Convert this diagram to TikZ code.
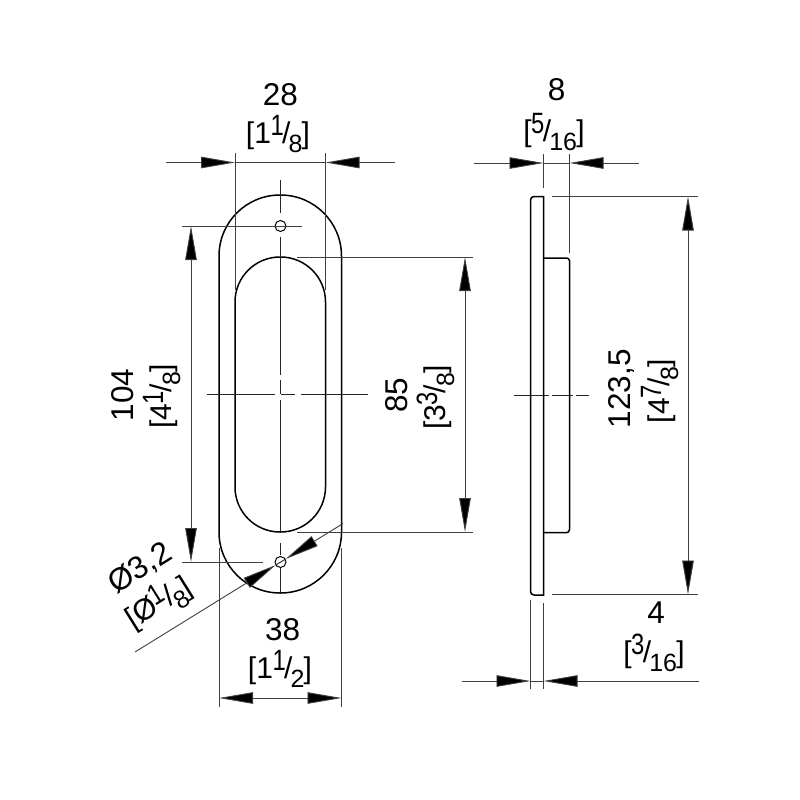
\documentclass[tikz,border=0pt]{standalone}
\usepackage{fontspec}
\setmainfont{Liberation Sans}
\usetikzlibrary{arrows.meta}
\newcommand{\brk}[3]{{\fontsize{30}{31}\selectfont[#1\kern-.5pt\raisebox{8pt}{\scalebox{.85}[1.05]{\fontsize{28}{29}\selectfont #2}}\kern-1.5pt/\kern-2pt\raisebox{-9pt}{\fontsize{25}{26}\selectfont #3}\kern-.8pt]}}
\tikzset{
  outline/.style={line width=1.5pt,black},
  dimline/.style={line width=.9pt,black!75},
  extline/.style={line width=.9pt,black!75},
  centre/.style={line width=.9pt,black!85},
  dimtip/.style={-{Triangle[length=34pt,width=11.5pt,fill=black]}},
  bigtxt/.style={font=\fontsize{31.5}{33}\selectfont,inner sep=0pt,anchor=base},
  fractxt/.style={inner sep=0pt,anchor=base},
}
\begin{document}
\begin{tikzpicture}[x=1pt,y=-1pt]
\useasboundingbox (0,0) rectangle (800,800);
% named points
\coordinate (holeT) at (280.5,226);
\coordinate (holeB) at (280.5,562);
% front view
\draw[outline,rounded corners=61pt] (219,195) rectangle (341.5,593);
\draw[outline,rounded corners=45pt] (235,257) rectangle (325.5,532);
\node[circle,draw,line width=1pt,minimum size=11pt,inner sep=0pt] (hT) at (holeT) {};
\node[circle,draw,line width=1pt,minimum size=11pt,inner sep=0pt] (hB) at (holeB) {};
% centre lines
\draw[centre] (280.5,180) -- (280.5,213);
\draw[centre] (280.5,237) -- (280.5,375);
\draw[centre] (280.5,380) -- (280.5,394);
\draw[centre] (280.5,400) -- (280.5,532);
\draw[centre] (280.5,543) -- (280.5,555);
\draw[centre] (280.5,568) -- (280.5,593);
\draw[centre] (207,394) -- (275,394);
\draw[centre] (280.5,394) -- (295,394);
\draw[centre] (301,394) -- (368,394);
\draw[centre] (514,395) -- (549,395);
\draw[centre] (552,395) -- (573,395);
\draw[centre] (576,395) -- (589,395);
% dim 28
\draw[extline] (235,153) -- (235,290);
\draw[extline] (325.5,153) -- (325.5,290);
\coordinate (a1) at (166,162.5); \coordinate (a2) at (235,162.5);
\coordinate (a3) at (395,162.5); \coordinate (a4) at (325.5,162.5);
\draw[dimline] (a2) -- (a4);
\draw[dimline,dimtip] (a1) -- (a2);
\draw[dimline,dimtip] (a3) -- (a4);
\node[bigtxt] (t28) at (280.5,105) {28};
\node[fractxt] (f28) at (278,143) {\brk{1}{1}{8}};
% dim 104
\draw[extline] (182,226) -- (302,226);
\draw[extline] (182,562) -- (263,562);
\coordinate (b1) at (191,394); \coordinate (b2) at (191,226); \coordinate (b3) at (191,562);
\draw[dimline,dimtip] (b1) -- (b2);
\draw[dimline,dimtip] (b1) -- (b3);
\node[bigtxt,rotate=90] (t104) at (133,395) {104};
\node[fractxt,rotate=90] (f104) at (171,396.5) {\brk{4}{1}{8}};
% dim 85
\draw[extline] (297,257) -- (473,257);
\draw[extline] (297,532) -- (473,532);
\coordinate (c1) at (465,394); \coordinate (c2) at (465,257); \coordinate (c3) at (465,532);
\draw[dimline,dimtip] (c1) -- (c2);
\draw[dimline,dimtip] (c1) -- (c3);
\node[bigtxt,rotate=90] (t85) at (407,395) {85};
\node[fractxt,rotate=90] (f85) at (445,397.5) {\brk{3}{3}{8}};
% dim 38
\draw[extline] (219,548) -- (219,707);
\draw[extline] (341.5,548) -- (341.5,707);
\coordinate (d1) at (280,698); \coordinate (d2) at (219,698); \coordinate (d3) at (341.5,698);
\draw[dimline,dimtip] (d1) -- (d2);
\draw[dimline,dimtip] (d1) -- (d3);
\node[bigtxt] (t38) at (282.7,640) {38};
\node[fractxt] (f38) at (280,678.5) {\brk{1}{1}{2}};
% dia 3.2
\coordinate (e0) at (135,652); \coordinate (e1) at (275.7,565); \coordinate (e2) at (285.7,559); \coordinate (e3) at (343,523.5);
\draw[dimline,dimtip] (e0) -- (e1);
\draw[dimline,dimtip] (e3) -- (e2);
\draw[centre] (e1) -- (e2);
\node[bigtxt,rotate=32] (td) at (145,576) {Ø3,2};
\node[fractxt,rotate=32] (fd) at (163.7,610.6) {\brk{Ø}{1}{8}};
% side view
\draw[outline] (543.5,196.5) -- (534,196.5) to[out=180,in=90] (530.5,200) -- (530.5,591.5) to[out=-90,in=180] (534,595) -- (543.5,595) -- cycle;
\draw[outline] (543.5,258) -- (566.5,258) to[out=0,in=90] (569.5,261) -- (569.5,529.5) to[out=-90,in=0] (566.5,532.7) -- (543.5,532.7);
% dim 8
\draw[extline] (543.5,154) -- (543.5,188);
\draw[extline] (569.5,154) -- (569.5,253);
\coordinate (g1) at (474,163); \coordinate (g2) at (543.5,163);
\coordinate (g3) at (639,163); \coordinate (g4) at (569.5,163);
\draw[dimline] (g2) -- (g4);
\draw[dimline,dimtip] (g1) -- (g2);
\draw[dimline,dimtip] (g3) -- (g4);
\node[bigtxt] (t8) at (556.7,100.7) {8};
\node[fractxt] (f8) at (554,141.5) {\brk{}{5}{16}};
% dim 123,5
\draw[extline] (552,196.5) -- (698,196.5);
\draw[extline] (552,594.5) -- (698,594.5);
\coordinate (h1) at (688,394); \coordinate (h2) at (688,196.5); \coordinate (h3) at (688,594.5);
\draw[dimline,dimtip] (h1) -- (h2);
\draw[dimline,dimtip] (h1) -- (h3);
\node[bigtxt,rotate=90] (t123) at (630,388.7) {123,5};
\node[fractxt,rotate=90] (f123) at (669,391) {\brk{4}{7}{8}};
% dim 4
\draw[extline] (530.5,600) -- (530.5,689);
\draw[extline] (543.5,603) -- (543.5,689);
\coordinate (k1) at (461.5,681); \coordinate (k2) at (530.5,681);
\coordinate (k3) at (699,681); \coordinate (k4) at (543.5,681);
\draw[dimline] (k2) -- (k4);
\draw[dimline,dimtip] (k1) -- (k2);
\draw[dimline,dimtip] (k3) -- (k4);
\node[bigtxt] (t4) at (656,623) {4};
\node[fractxt] (f4) at (654,662) {\brk{}{3}{16}};
\end{tikzpicture}
\end{document}
